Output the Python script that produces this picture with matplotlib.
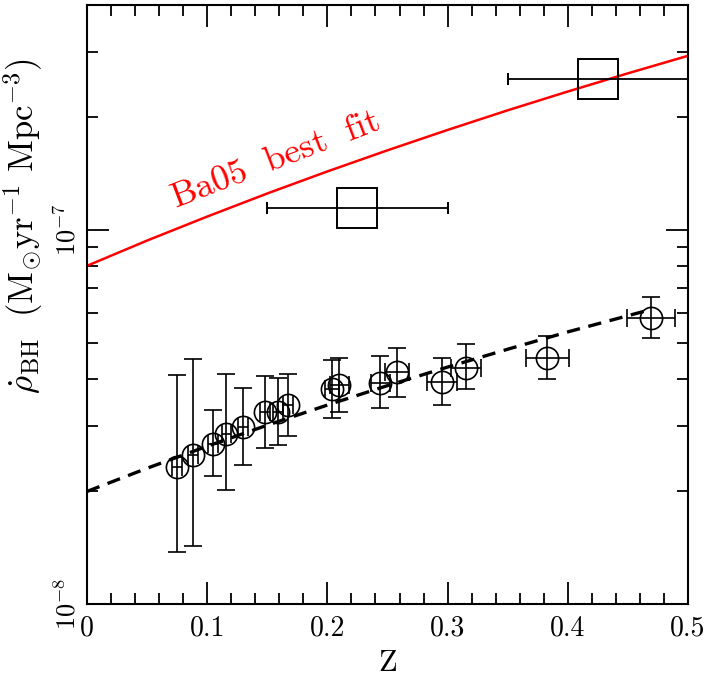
import matplotlib
matplotlib.use("Agg")
import matplotlib.pyplot as plt
from matplotlib.ticker import FixedLocator, NullFormatter

plt.rcParams["mathtext.fontset"] = "cm"
plt.rcParams["font.family"] = ["cmr10", "DejaVu Serif"]
plt.rcParams["axes.formatter.use_mathtext"] = True

# puntos (circulos) con barras de error asimetricas en y
z_pts = [0.075, 0.088, 0.105, 0.116, 0.130, 0.148, 0.159, 0.167,
         0.204, 0.210, 0.244, 0.258, 0.295, 0.315, 0.383, 0.469]
z_err = [0.004, 0.004, 0.004, 0.004, 0.004, 0.004, 0.004, 0.004,
         0.006, 0.008, 0.008, 0.010, 0.0125, 0.0125, 0.018, 0.020]
rho = [2.32, 2.50, 2.68, 2.85, 2.97, 3.26, 3.27, 3.40,
       3.75, 3.84, 3.89, 4.16, 3.92, 4.28, 4.55, 5.81]
rho_lo = [1.38, 1.43, 2.20, 2.02, 2.36, 2.62, 2.67, 2.82,
          3.15, 3.26, 3.34, 3.57, 3.41, 3.76, 4.00, 5.14]
rho_hi = [4.10, 4.53, 3.30, 4.11, 3.78, 4.08, 4.01, 4.13,
          4.50, 4.56, 4.61, 4.85, 4.56, 4.96, 5.21, 6.62]

# cuadrados
z_sq = [0.225, 0.425]
z_sq_err = [0.075, 0.075]
rho_sq = [1.147e-7, 2.54e-7]

# curva roja (Ba05 best fit)
z_red = [0.0, 0.05, 0.1, 0.15, 0.2, 0.25, 0.3, 0.35, 0.4, 0.45, 0.5]
rho_red = [8.02e-8, 9.37e-8, 1.086e-7, 1.252e-7, 1.434e-7, 1.633e-7,
           1.851e-7, 2.089e-7, 2.345e-7, 2.623e-7, 2.922e-7]

# linea negra discontinua
z_fit = [0.0, 0.05, 0.1, 0.15, 0.2, 0.25, 0.3, 0.35, 0.4, 0.47]
rho_fit = [2.0e-8, 2.307e-8, 2.642e-8, 3.007e-8, 3.404e-8, 3.837e-8,
           4.30e-8, 4.80e-8, 5.34e-8, 6.14e-8]

x_ticks = [0, 0.1, 0.2, 0.3, 0.4, 0.5]
x_labels = ["0", "0.1", "0.2", "0.3", "0.4", "0.5"]
y_ticks = [1e-8, 1e-7]
y_labels = [r"$10^{-8}$", r"$10^{-7}$"]

fig = plt.figure(figsize=(7.25, 6.81), dpi=100)
ax = fig.add_axes([0.12, 0.113, 0.829, 0.880])

ax.plot(z_red, rho_red, color="red", lw=1.8)
ax.plot(z_fit, rho_fit, color="black", lw=2.4, dashes=(4, 2.6))

lo = [(r - l) * 1e-8 for r, l in zip(rho, rho_lo)]
hi = [(h - r) * 1e-8 for r, h in zip(rho, rho_hi)]
ax.errorbar(z_pts, [r * 1e-8 for r in rho], yerr=[lo, hi], xerr=z_err,
            fmt="o", ms=16, mfc="none", mec="black", mew=1.2,
            ecolor="black", elinewidth=1.2, capsize=6.5, capthick=1.2)
ax.errorbar(z_sq, rho_sq, xerr=z_sq_err, fmt="s", ms=29, mfc="none",
            mec="black", mew=1.4, ecolor="black", elinewidth=1.3,
            capsize=4, capthick=1.3)

ax.text(0.157, 1.54e-7, r"$\mathrm{Ba05\ \ best\ \ fit}$", color="red",
        fontsize=26, rotation=21, ha="center", va="center")

ax.set_yscale("log")
ax.set_xlim(0, 0.5)
ax.set_ylim(1e-8, 4e-7)

ax.xaxis.set_major_locator(FixedLocator(x_ticks))
ax.xaxis.set_minor_locator(FixedLocator([i * 0.02 for i in range(26)]))
ax.set_xticklabels(x_labels, fontsize=20)
ax.yaxis.set_major_locator(FixedLocator(y_ticks))
ax.set_yticklabels(y_labels, fontsize=19, rotation=90, va="center")
ax.yaxis.set_minor_locator(FixedLocator([m * 10.0 ** e for e in (-8, -7)
                                         for m in range(2, 10)]))
ax.yaxis.set_minor_formatter(NullFormatter())

ax.tick_params(which="both", direction="in", top=True, right=True,
               width=1.3, color="black")
ax.tick_params(which="major", length=16)
ax.tick_params(which="minor", length=8)
ax.tick_params(axis="x", pad=8)
ax.tick_params(axis="y", pad=5)
for s in ax.spines.values():
    s.set_linewidth(1.5)

ax.set_xlabel(r"$\mathrm{Z}$", fontsize=22, labelpad=6)
ax.set_ylabel(r"$\dot{\rho}_{\rm BH}\ \ (\mathrm{M}_{\odot}\mathrm{yr}^{-1}\ \mathrm{Mpc}^{-3})$",
              fontsize=25)
ax.yaxis.set_label_coords(-0.07, 0.63)

fig.savefig("out.png", dpi=100)
